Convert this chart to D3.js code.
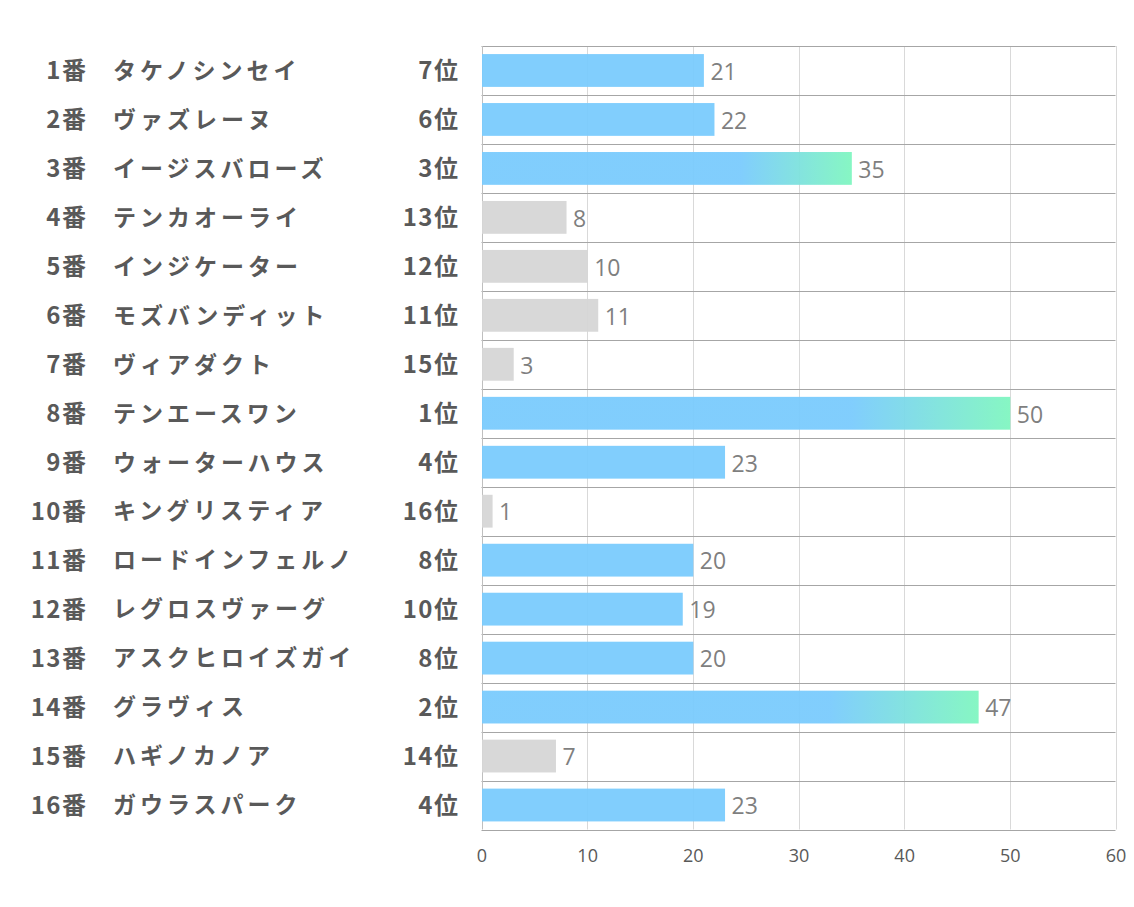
<!DOCTYPE html>
<html>
<head>
<meta charset="utf-8">
<script src="https://cdn.jsdelivr.net/npm/d3@7"></script>
<style>
  html, body { margin: 0; padding: 0; background: #fff; }
  svg { display: block; }
</style>
</head>
<body>
<svg id="chart" width="1134" height="907"></svg>
<script>
// ---- data ----
const numbers = ["1番","2番","3番","4番","5番","6番","7番","8番","9番","10番","11番","12番","13番","14番","15番","16番"];
const names = ["タケノシンセイ","ヴァズレーヌ","イージスバローズ","テンカオーライ","インジケーター","モズバンディット","ヴィアダクト","テンエースワン","ウォーターハウス","キングリスティア","ロードインフェルノ","レグロスヴァーグ","アスクヒロイズガイ","グラヴィス","ハギノカノア","ガウラスパーク"];
const ranks = [7,6,3,13,12,11,15,1,4,16,8,10,8,2,14,4];
const values = [21,22,35,8,10,11,3,50,23,1,20,19,20,47,7,23];
const xTicks = [0,10,20,30,40,50,60];

// ---- layout ----
const pLeft = 481.5, pRight = 1115.5, pTop = 46, pBottom = 829.5;
const svg = d3.select("#chart");
const x = d3.scaleLinear().domain([0, 60]).range([pLeft, pRight]);
const y = d3.scaleBand().domain(d3.range(values.length)).range([pTop, pBottom]).paddingInner(0.33).paddingOuter(0.165);
const yRow = d3.scaleBand().domain(d3.range(values.length)).range([pTop, pBottom]);

const blue = "#7acbfd", gray = "#d6d6d6", green = "#80f6c0";
const fontJP = "'Noto Sans CJK JP','Noto Sans',sans-serif";
const fontNum = "'Open Sans','Noto Sans',sans-serif";
const lsNum = 1.5, lsName = 4;

// gradient
const defs = svg.append("defs");
const grad = defs.append("linearGradient").attr("id", "topGrad")
  .attr("x1", "0%").attr("x2", "100%").attr("y1", "0%").attr("y2", "0%");
grad.append("stop").attr("offset", "0%").attr("stop-color", blue);
grad.append("stop").attr("offset", "70%").attr("stop-color", blue);
grad.append("stop").attr("offset", "100%").attr("stop-color", green);

// vertical grid lines
svg.append("g").selectAll("line").data(xTicks.slice(1)).join("line")
  .attr("x1", d => Math.round(x(d)) + 0.5).attr("x2", d => Math.round(x(d)) + 0.5)
  .attr("y1", pTop).attr("y2", pBottom)
  .attr("stroke", "#d9d9d9").attr("stroke-width", 1);

// horizontal row lines
const hLines = d3.range(values.length + 1).map(i => i === values.length ? pBottom : yRow(i));
svg.append("g").selectAll("line").data(hLines).join("line")
  .attr("x1", pLeft).attr("x2", pRight)
  .attr("y1", d => Math.round(d) + 0.5).attr("y2", d => Math.round(d) + 0.5)
  .attr("stroke", "#a6a6a6").attr("stroke-width", 1);

// left axis line
svg.append("line")
  .attr("x1", Math.round(pLeft) + 0.5).attr("x2", Math.round(pLeft) + 0.5)
  .attr("y1", pTop).attr("y2", pBottom)
  .attr("stroke", "#bfbfbf").attr("stroke-width", 1);

// bars
const fillFor = i => ranks[i] <= 3 ? "url(#topGrad)" : (ranks[i] <= 10 ? blue : gray);
svg.append("g").selectAll("rect").data(values).join("rect")
  .attr("x", x(0) + 0.5)
  .attr("y", (d, i) => y(i))
  .attr("width", d => x(d) - x(0))
  .attr("height", y.bandwidth())
  .attr("fill", (d, i) => fillFor(i))
  .attr("fill-opacity", 0.95);

// value labels
svg.append("g").selectAll("text").data(values).join("text")
  .attr("x", d => x(d) + 7)
  .attr("y", (d, i) => yRow(i) + yRow.bandwidth() / 2 + 1)
  .attr("dy", "0.36em")
  .attr("font-family", fontNum)
  .attr("font-size", 23)
  .attr("fill", "#7f7f7f")
  .text(d => d);

// left labels
const lbl = svg.append("g").attr("font-family", fontJP).attr("font-weight", "bold")
  .attr("fill", "#595959");
lbl.selectAll("text.num").data(numbers).join("text").attr("class", "num")
  .attr("x", 86 + lsNum).attr("text-anchor", "end")
  .attr("font-size", 24).attr("letter-spacing", lsNum)
  .attr("y", (d, i) => yRow(i) + yRow.bandwidth() / 2).attr("dy", "0.36em")
  .text(d => d);
lbl.selectAll("text.name").data(names).join("text").attr("class", "name")
  .attr("x", 113).attr("font-size", 23).attr("letter-spacing", lsName)
  .attr("y", (d, i) => yRow(i) + yRow.bandwidth() / 2).attr("dy", "0.36em")
  .text(d => d);
lbl.selectAll("text.rank").data(ranks).join("text").attr("class", "rank")
  .attr("x", 458 + lsNum).attr("text-anchor", "end")
  .attr("font-size", 24).attr("letter-spacing", lsNum)
  .attr("y", (d, i) => yRow(i) + yRow.bandwidth() / 2).attr("dy", "0.36em")
  .text(d => d + "位");

// x axis
const xAxis = d3.axisBottom(x).tickValues(xTicks).tickSize(0).tickPadding(20);
const gx = svg.append("g").attr("transform", `translate(0,${pBottom})`).call(xAxis);
gx.select(".domain").remove();
gx.selectAll("text").attr("font-family", fontNum).attr("font-size", 18).attr("fill", "#595959");
</script>
</body>
</html>
